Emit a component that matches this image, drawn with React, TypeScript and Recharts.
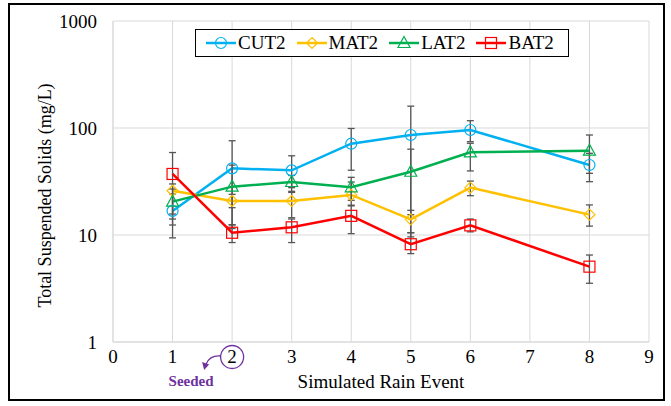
import React from "react";
import {
  LineChart,
  Line,
  XAxis,
  YAxis,
  CartesianGrid,
  ErrorBar,
  Legend,
  Label,
} from "recharts";

// Simulated rain events sampled (event 7 has no measurements)
const events = [1, 2, 3, 4, 5, 6, 8];

// Mean TSS (mg/L) with lower / upper bounds of the error bars
const cut2 = [16.8, 42, 40.2, 71.3, 86, 95.8, 45.1];
const cut2Low = [12.4, 12.4, 27.7, 40.3, 10.5, 74.5, 31.5];
const cut2High = [24.2, 76, 55, 99, 160, 117, 58];

const mat2 = [25.9, 20.8, 20.8, 23.7, 14, 27.7, 15.5];
const mat2Low = [15.7, 18, 14.5, 18.7, 9.6, 23.3, 12.1];
const mat2High = [30, 24, 25, 31.3, 17, 31.9, 19.1];

const lat2 = [20.5, 28.3, 31.3, 27.9, 39, 59.3, 61.4];
const lat2Low = [14.1, 11.5, 25.6, 21.1, 15.5, 39.7, 37.7];
const lat2High = [26.9, 45, 36, 34.6, 63.4, 72, 86];

const bat2 = [37.2, 10.5, 11.8, 15.1, 8.2, 12.3, 5.06];
const bat2Low = [9.4, 8.5, 8.5, 10.3, 6.7, 10.7, 3.54];
const bat2High = [59, 12.5, 14.1, 19, 10.5, 14.1, 6.5];

const xTicks = [0, 1, 2, 3, 4, 5, 6, 7, 8, 9];
const yTicks = [1, 10, 100, 1000];
const seededEvent = 2;

const FONT = "Liberation Serif";
const PURPLE = "#7030A0";

type Shape = "circle" | "diamond" | "triangle" | "square";

const series: {
  name: string;
  values: number[];
  low: number[];
  high: number[];
  color: string;
  shape: Shape;
}[] = [
  { name: "CUT2", values: cut2, low: cut2Low, high: cut2High, color: "#00B0F0", shape: "circle" },
  { name: "MAT2", values: mat2, low: mat2Low, high: mat2High, color: "#FFC000", shape: "diamond" },
  { name: "LAT2", values: lat2, low: lat2Low, high: lat2High, color: "#00B050", shape: "triangle" },
  { name: "BAT2", values: bat2, low: bat2Low, high: bat2High, color: "#FF0000", shape: "square" },
];

const data = events.map((x, i) => {
  const row: Record<string, number | number[]> = { x };
  series.forEach((s) => {
    row[s.name] = s.values[i];
    row[`${s.name}_err`] = [s.values[i] - s.low[i], s.high[i] - s.values[i]];
  });
  return row;
});

function Marker({ shape, cx, cy, color }: { shape: Shape; cx: number; cy: number; color: string }) {
  const common = { fill: "none", stroke: color, strokeWidth: 1.2 };
  switch (shape) {
    case "circle":
      return <circle cx={cx} cy={cy} r={5.5} {...common} />;
    case "diamond":
      return (
        <polygon
          points={`${cx},${cy - 5.5} ${cx + 5.5},${cy} ${cx},${cy + 5.5} ${cx - 5.5},${cy}`}
          {...common}
        />
      );
    case "triangle":
      return (
        <polygon points={`${cx},${cy - 6.5} ${cx + 6},${cy + 4.5} ${cx - 6},${cy + 4.5}`} {...common} />
      );
    default:
      return <rect x={cx - 5.5} y={cy - 5.5} width={11} height={11} {...common} />;
  }
}

function LegendBox() {
  return (
    <div
      style={{
        display: "flex",
        alignItems: "center",
        height: 28,
        boxSizing: "border-box",
        border: "1px solid #000",
        background: "#fff",
        paddingLeft: 10,
        fontFamily: FONT,
        fontSize: 19,
        color: "#000",
        whiteSpace: "nowrap",
      }}
    >
      {series.map((s) => (
        <div key={s.name} style={{ display: "flex", alignItems: "center", marginRight: 11 }}>
          <svg width={30} height={20}>
            <line x1={0} y1={10} x2={30} y2={10} stroke={s.color} strokeWidth={2.5} />
            <Marker shape={s.shape} cx={15} cy={10} color={s.color} />
          </svg>
          <span style={{ marginLeft: 2 }}>{s.name}</span>
        </div>
      ))}
    </div>
  );
}

function YTick(props: any) {
  const { x, y, payload } = props;
  return (
    <text x={x} y={y} dy="0.35em" textAnchor="end" fontFamily={FONT} fontSize={19} fill="#000">
      {payload.value}
    </text>
  );
}

function XTick(props: any) {
  const { x, y, payload } = props;
  const label = (
    <text x={x} y={y} dy="0.71em" textAnchor="middle" fontFamily={FONT} fontSize={19} fill="#000">
      {payload.value}
    </text>
  );
  if (payload.value !== seededEvent) return label;
  // circled event label with a curved arrow pointing to the note
  return (
    <g>
      {label}
      <circle cx={x} cy={y + 7} r={11.5} fill="none" stroke={PURPLE} strokeWidth={1.3} />
      <path
        d={`M ${x - 11.5} ${y + 6} Q ${x - 22} ${y + 5} ${x - 26} ${y + 14}`}
        fill="none"
        stroke={PURPLE}
        strokeWidth={1.3}
      />
      <polygon
        points={`${x - 28} ${y + 20} ${x - 30} ${y + 12} ${x - 23} ${y + 14.5}`}
        fill={PURPLE}
      />
      <text
        x={x - 41}
        y={y + 36}
        textAnchor="middle"
        fontFamily={FONT}
        fontSize={15}
        fontWeight="bold"
        fill={PURPLE}
      >
        Seeded
      </text>
    </g>
  );
}

export default function App() {
  return (
    <div style={{ position: "absolute", left: 0, top: 0, width: 671, height: 406, background: "#fff" }}>
      <div
        style={{
          position: "absolute",
          left: 8,
          top: 3,
          width: 657,
          height: 398,
          boxSizing: "border-box",
          border: "2px solid #000",
        }}
      />
      <LineChart
        width={671}
        height={406}
        data={data}
        margin={{ top: 21, right: 22, bottom: 34, left: 30 }}
        style={{ position: "absolute", left: 0, top: 0 }}
      >
        <CartesianGrid stroke="#d9d9d9" strokeWidth={1} />
        <XAxis
          dataKey="x"
          type="number"
          domain={[0, 9]}
          ticks={xTicks}
          interval={0}
          height={30}
          axisLine={{ stroke: "#d9d9d9" }}
          tickLine={false}
          tick={<XTick />}
        >
          <Label
            content={({ viewBox }: any) => {
              const { x, y, width, height } = viewBox;
              return (
                <text
                  x={x + width / 2}
                  y={y + height + 16}
                  textAnchor="middle"
                  fontFamily={FONT}
                  fontSize={19}
                  fill="#000"
                >
                  Simulated Rain Event
                </text>
              );
            }}
          />
        </XAxis>
        <YAxis
          scale="log"
          domain={[1, 1000]}
          ticks={yTicks}
          allowDataOverflow
          width={83}
          axisLine={{ stroke: "#d9d9d9" }}
          tickLine={false}
          tickMargin={10}
          tick={<YTick />}
        >
          <Label
            content={({ viewBox }: any) => {
              const { x, y, height } = viewBox;
              const cx = x + 15;
              const cy = y + height / 2 + 14;
              return (
                <text
                  transform={`translate(${cx}, ${cy}) rotate(-90)`}
                  textAnchor="middle"
                  dominantBaseline="central"
                  fontFamily={FONT}
                  fontSize={18}
                  fill="#000"
                >
                  Total Suspended Solids (mg/L)
                </text>
              );
            }}
          />
        </YAxis>
        <Legend
          verticalAlign="middle"
          align="center"
          layout="horizontal"
          content={() => <LegendBox />}
          wrapperStyle={{ left: 195, top: 29, width: 374, height: 28 }}
        />
        {series.map((s) => (
          <Line
            key={s.name}
            type="linear"
            dataKey={s.name}
            stroke={s.color}
            strokeWidth={2.5}
            isAnimationActive={false}
            activeDot={false}
            dot={(p: any) => (
              <Marker key={`${s.name}-${p.index}`} shape={s.shape} cx={p.cx} cy={p.cy} color={s.color} />
            )}
          >
            <ErrorBar
              dataKey={`${s.name}_err`}
              direction="y"
              width={3.5}
              stroke="#555555"
              strokeWidth={1.3}
              isAnimationActive={false}
            />
          </Line>
        ))}
      </LineChart>
    </div>
  );
}
